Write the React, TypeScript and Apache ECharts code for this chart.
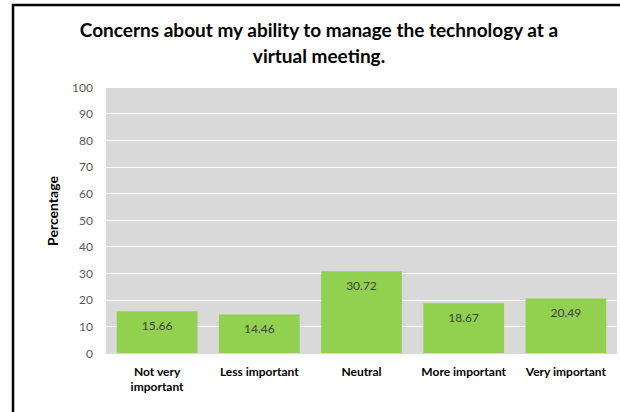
import React, { useEffect, useRef } from "react";
import * as echarts from "echarts";

const categories = ["Not very\nimportant", "Less important", "Neutral", "More important", "Very important"];
const values = [15.66, 14.46, 30.72, 18.67, 20.49];
const titleText = "Concerns about my ability to manage the technology at a\nvirtual meeting.";
const yAxisName = "Percentage";

export default function App() {
  const ref = useRef<HTMLDivElement>(null);
  useEffect(() => {
    const chart = echarts.init(ref.current!, null, { renderer: "svg" });
    chart.setOption({
      animation: false,
      backgroundColor: "#ffffff",
      title: {
        text: titleText,
        left: 314,
        textAlign: "center",
        top: 11,
        textStyle: {
          fontFamily: "Lato",
          fontWeight: "bold",
          fontSize: 19,
          lineHeight: 26,
          color: "#000000",
        },
      },
      graphic: [
        {
          type: "rect",
          shape: { x: 13, y: 5, width: 640, height: 440 },
          style: { fill: "none", stroke: "#000000", lineWidth: 2.5 },
          silent: true,
        },
        {
          type: "rect",
          shape: { x: 106, y: 87, width: 511, height: 266 },
          style: { fill: "#d9d9d9" },
          z: -1,
          silent: true,
        },
        {
          type: "text",
          x: 52,
          y: 211,
          rotation: Math.PI / 2,
          style: {
            text: yAxisName,
            fontFamily: "Lato",
            fontWeight: "bold",
            fontSize: 14,
            fill: "#000000",
            align: "center",
            verticalAlign: "middle",
          },
          silent: true,
        },
      ],
      grid: { left: 106, right: 3, top: 87, bottom: 59 },
      xAxis: {
        type: "category",
        data: categories,
        axisTick: { show: false },
        axisLine: { show: true, lineStyle: { color: "#d9d9d9", width: 1 } },
        axisLabel: {
          interval: 0,
          color: "#000000",
          fontFamily: "Lato",
          fontWeight: "bold",
          fontSize: 12,
          lineHeight: 15,
          margin: 11,
        },
      },
      yAxis: {
        type: "value",
        min: 0,
        max: 100,
        interval: 10,
        axisLine: { show: false },
        axisTick: { show: false },
        splitLine: { show: true, lineStyle: { color: "#ffffff", width: 1 } },
        axisLabel: {
          color: "#595959",
          fontFamily: "Lato",
          fontSize: 12,
          margin: 13,
        },
      },
      series: [
        {
          type: "bar",
          data: values,
          barWidth: "79%",
          itemStyle: { color: "#92d050" },
          label: {
            show: true,
            position: "insideTop",
            distance: 8,
            color: "#404040",
            fontFamily: "Lato",
            fontSize: 12,
            formatter: (p: any) => p.value.toFixed(2),
          },
        },
      ],
    });
    return () => chart.dispose();
  }, []);
  return <div ref={ref} style={{ width: 620, height: 412, position: "absolute", left: 0, top: 0 }} />;
}
